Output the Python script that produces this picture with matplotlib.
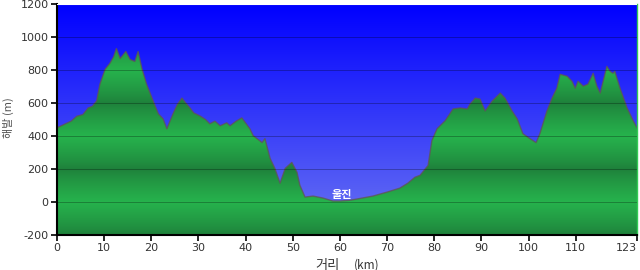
import matplotlib
matplotlib.use("Agg")
import matplotlib.pyplot as plt
import numpy as np
from matplotlib.colors import LinearSegmentedColormap

dist_km = [0, 1.5, 3, 4.2, 5.5, 6.6, 7.5, 8.4, 9.1, 10.2, 11.2, 12, 12.6, 13.4, 14.6,
           15.5, 16.5, 17.2, 18, 19, 20.4, 21.5, 22.5, 23.3, 24.6, 25.5, 26.5, 27.3,
           28.2, 29, 30.3, 31.5, 32.4, 33.5, 34.6, 36, 36.7, 38, 39.2, 40.9, 41.6,
           43.5, 44.1, 45.2, 46.2, 47.3, 48.4, 49.8, 50.9, 51.5, 52.6, 54.3, 56.4,
           58.5, 60, 62, 63.6, 65.5, 67, 70, 72.7, 74.4, 75.9, 77, 78.7, 79.5, 80.6,
           82.3, 84, 85.5, 87, 87.6, 88.7, 89.7, 90.8, 92.3, 94, 95, 96.5, 97.6,
           98.8, 100.3, 101.6, 102.4, 103.9, 105, 106, 106.7, 108.2, 109.2, 109.9,
           110.5, 111.6, 112.6, 113.7, 114.5, 115.2, 116.6, 117.3, 117.9, 118.3,
           119.4, 120.9, 122.2, 123]
elev_m = [450, 470, 490, 520, 530, 570, 580, 612, 714, 804, 840, 880, 930, 870, 912,
          864, 852, 912, 810, 714, 612, 534, 504, 444, 534, 590, 630, 600,
          570, 540, 522, 500, 474, 490, 462, 480, 462, 490, 510, 444, 402,
          360, 384, 264, 204, 114, 204, 240, 180, 102, 30, 36, 24,
          6, 6, 10, 18, 28, 36, 60, 84, 114, 150, 162, 222, 372, 444,
          492, 564, 570, 564, 594, 630, 624, 552, 612, 660, 630, 552, 504,
          414, 384, 360, 414, 552, 630, 690, 774, 762, 732, 690,
          732, 702, 714, 780, 702, 660, 822, 792, 780, 792,
          690, 570, 492, 450]

x_ticks = [0, 10, 20, 30, 40, 50, 60, 70, 80, 90, 100, 110, 123]
y_ticks = [-200, 0, 200, 400, 600, 800, 1000, 1200]
place_label = "울진"
place_km = 60.4
place_elev = 45

KR = ["Noto Sans CJK KR", "DejaVu Sans"]

fig = plt.figure(figsize=(6.4, 2.7), dpi=100)
ax = fig.add_axes([57/640, 1-235/270, 580/640, 231/270])
xmin, xmax, ymin, ymax = 0, 123, -200, 1200
ax.set_xlim(xmin, xmax)
ax.set_ylim(ymin, ymax)

# Sky gradient
sky = LinearSegmentedColormap.from_list("sky", [(0.42, 0.46, 0.95), (0.0, 0.0, 1.0)])
grad = np.linspace(0, 1, 256).reshape(-1, 1)
ax.imshow(grad, extent=[xmin, xmax, ymin, ymax], origin="lower", aspect="auto",
          cmap=sky, zorder=0)

# Green banded fill
yy = np.linspace(ymin, ymax, 700)
phase = np.abs(((yy % 400) - 200) / 200.0)
light = np.array([0.15, 0.70, 0.30])
dark = np.array([0.12, 0.50, 0.23])
cols = dark[None, :] + (light - dark)[None, :] * phase[:, None] ** 0.8
img = np.repeat(cols[:, None, :], 2, axis=1)
poly = ax.fill_between(dist_km, elev_m, ymin, facecolor="none", edgecolor="none")
im = ax.imshow(img, extent=[xmin, xmax, ymin, ymax], origin="lower", aspect="auto",
               zorder=1, interpolation="bilinear")
path = poly.get_paths()[0]
im.set_clip_path(path, transform=ax.transData)
ax.plot(dist_km, elev_m, color=(0.38, 0.33, 0.33), lw=1.0, alpha=0.75, zorder=2)

# Grid lines
for v in y_ticks[1:-1]:
    ax.axhline(v, color="black", lw=0.7, alpha=0.28, zorder=3)
ax.axhline(1200, color="white", lw=1.5, zorder=4)

ax.text(place_km, place_elev, place_label, color="white", fontsize=8, fontweight="bold",
        ha="center", va="center", family=KR, zorder=5)

ax.set_xticks(x_ticks)
ax.set_yticks(y_ticks)
ax.set_yticklabels([str(v) for v in y_ticks])
ax.tick_params(axis="both", direction="out", length=4, width=1.2, color="black",
               labelsize=8, labelcolor="#333333", pad=2)
for lbl in ax.get_xticklabels():
    if lbl.get_text() == "123":
        lbl.set_ha("right")
ax.spines["left"].set_linewidth(1.5)
ax.spines["bottom"].set_linewidth(1.5)
ax.spines["top"].set_visible(False)
ax.spines["right"].set_color("#33cc55")
ax.spines["right"].set_linewidth(1.0)

# Axis titles
fig.text(327/640, 1-265/270, "거리", family=KR, fontsize=9.5, color="#333333",
         ha="center", va="center")
fig.text(367/640, 1-265/270, "(km)", family=KR, fontsize=8.5, color="#333333",
         ha="center", va="center")
fig.text(8/640, 1-118/270, "해발 (m)", family=KR, fontsize=8, color="#555555",
         ha="center", va="center", rotation=90)

fig.savefig("out.png", dpi=100)
